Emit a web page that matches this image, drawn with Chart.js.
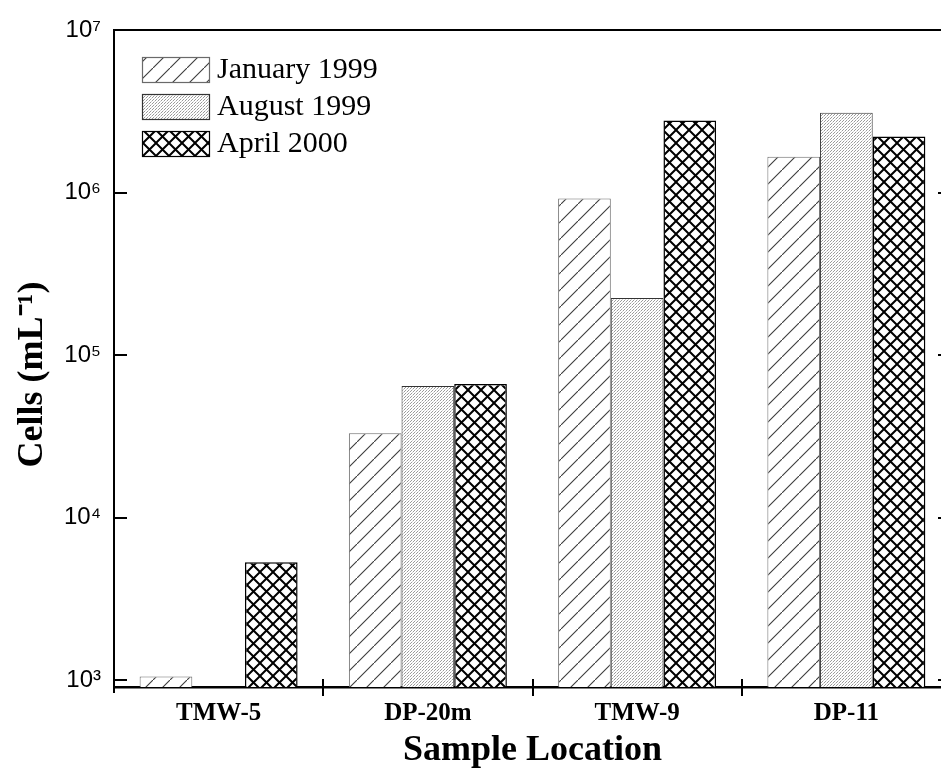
<!DOCTYPE html>
<html>
<head>
<meta charset="utf-8">
<script src="https://cdn.jsdelivr.net/npm/chart.js@4.4.1/dist/chart.umd.min.js"></script>
<style>
  html, body { margin: 0; padding: 0; background: #fff; overflow: hidden; }
  #wrap { width: 941px; height: 784px; overflow: hidden; }
  canvas { display: block; }
</style>
</head>
<body>
<div id="wrap"><canvas id="c" width="970" height="784"></canvas></div>
<script>
// ---- data ----
const categories = ['TMW-5', 'DP-20m', 'TMW-9', 'DP-11'];
const seriesLabels = ['January 1999', 'August 1999', 'April 2000'];
const jan1999 = [1050, 33000, 920000, 1660000];
const aug1999 = [null, 64500, 224000, 3100000];
const apr2000 = [5300, 66400, 2770000, 2210000];
const yTickValues = [1e3, 1e4, 1e5, 1e6, 1e7];
const yAxisTitle = 'Cells (mL\u207B\u00B9)';
const xAxisTitle = 'Sample Location';

// ---- patterns ----
function makePattern(size, draw) {
  const c = document.createElement('canvas');
  c.width = size; c.height = size;
  const g = c.getContext('2d');
  g.fillStyle = '#fff';
  g.fillRect(0, 0, size, size);
  draw(g, size);
  return g.createPattern(c, 'repeat');
}
const ctxMain = document.getElementById('c').getContext('2d');
const hatchPattern = makePattern(17, (g, s) => {
  g.strokeStyle = '#3a3a3a';
  g.lineWidth = 1.1;
  g.beginPath();
  g.moveTo(-2, s + 2); g.lineTo(s + 2, -2);
  g.stroke();
});
const stipplePattern = makePattern(3, (g, s) => {
  g.fillStyle = '#9a9a9a';
  g.fillRect(0, 0, 1, 1);
  g.fillRect(2, 1, 1, 1);
  g.fillStyle = '#cfcfcf';
  g.fillRect(1, 2, 1, 1);
});
const crossPattern = makePattern(13, (g, s) => {
  g.strokeStyle = '#000';
  g.lineWidth = 2;
  g.beginPath();
  g.moveTo(-2, -2); g.lineTo(s + 2, s + 2);
  g.moveTo(-2, s + 2); g.lineTo(s + 2, -2);
  g.stroke();
});

const supMap = { '0': '\u2070', '1': '\u00B9', '2': '\u00B2', '3': '\u00B3', '4': '\u2074', '5': '\u2075', '6': '\u2076', '7': '\u2077', '8': '\u2078', '9': '\u2079' };
function powLabel(v) {
  const e = Math.round(Math.log10(v));
  return '10' + String(e).split('').map(d => supMap[d]).join('');
}

const SERIF = '"Liberation Serif", "Times New Roman", serif';
const SANS = '"Liberation Sans", Arial, sans-serif';

// ---- plugins: frame, inner ticks, y title, legend inside plot ----
const framePlugin = {
  id: 'frame',
  afterDraw(chart) {
    const { ctx, chartArea: a, scales } = chart;
    const y = scales.y, x = scales.x;
    ctx.save();
    ctx.strokeStyle = '#000';
    ctx.lineWidth = 2;
    ctx.beginPath();
    ctx.moveTo(a.left, a.top); ctx.lineTo(a.right, a.top);
    ctx.moveTo(a.right, a.top); ctx.lineTo(a.right, a.bottom);
    ctx.moveTo(a.left, a.bottom); ctx.lineTo(a.left, a.bottom + 6);
    ctx.stroke();
    ctx.beginPath();
    yTickValues.forEach(v => {
      const py = Math.round(y.getPixelForValue(v));
      ctx.moveTo(a.left, py); ctx.lineTo(a.left + 13, py);
      ctx.moveTo(a.right - 13, py); ctx.lineTo(a.right, py);
    });
    ctx.stroke();
    ctx.beginPath();
    for (let i = 0; i < categories.length - 1; i++) {
      const px = Math.round((x.getPixelForValue(i) + x.getPixelForValue(i + 1)) / 2);
      ctx.moveTo(px, a.bottom - 8); ctx.lineTo(px, a.bottom + 9);
    }
    ctx.stroke();

    // y-axis title (text comes from the scale options)
    const t = chart.options.scales.y.title;
    ctx.save();
    ctx.translate(33, (a.top + a.bottom) / 2 + 16);
    ctx.rotate(-Math.PI / 2);
    ctx.fillStyle = '#000';
    ctx.font = 'bold 36px ' + SERIF;
    ctx.textAlign = 'center';
    ctx.textBaseline = 'middle';
    ctx.fillText(t.text, 0, 0);
    ctx.restore();
    ctx.restore();
  }
};

const legendPlugin = {
  id: 'insideLegend',
  afterDraw(chart) {
    const { ctx, chartArea: a } = chart;
    const bx = a.left + 28, by = a.top + 27, bw = 67, bh = 25, gap = 37;
    chart.data.datasets.forEach((ds, i) => {
      const yy = by + i * gap;
      ctx.save();
      ctx.fillStyle = ds.backgroundColor;
      ctx.fillRect(bx, yy, bw, bh);
      ctx.strokeStyle = ds.borderColor;
      ctx.lineWidth = 1.2;
      ctx.strokeRect(bx + 0.5, yy + 0.5, bw, bh);
      ctx.fillStyle = '#000';
      ctx.font = '30px ' + SERIF;
      ctx.textBaseline = 'middle';
      ctx.textAlign = 'left';
      ctx.fillText(ds.label, bx + bw + 8, yy + bh / 2 + 1);
      ctx.restore();
    });
  }
};

new Chart(ctxMain, {
  type: 'bar',
  data: {
    labels: categories,
    datasets: [
      { label: seriesLabels[0], data: jan1999, backgroundColor: hatchPattern, borderColor: '#6a6a6a', borderWidth: 1 },
      { label: seriesLabels[1], data: aug1999, backgroundColor: stipplePattern, borderColor: '#333', borderWidth: 1 },
      { label: seriesLabels[2], data: apr2000, backgroundColor: crossPattern, borderColor: '#000', borderWidth: 1.5 }
    ]
  },
  options: {
    responsive: false,
    animation: false,
    devicePixelRatio: 1,
    layout: { padding: { left: 0, right: 19, top: 30, bottom: 0 } },
    datasets: { bar: { barPercentage: 1.0, categoryPercentage: 0.755, borderSkipped: 'start' } },
    plugins: { legend: { display: false }, tooltip: { enabled: false } },
    scales: {
      x: {
        type: 'category',
        offset: true,
        grid: { display: false, drawTicks: false },
        border: { display: true, color: '#000', width: 2.5 },
        ticks: { color: '#000', padding: 12, font: { family: SERIF, weight: 'bold', size: 25 } },
        title: { display: true, text: xAxisTitle, color: '#000', font: { family: SERIF, weight: 'bold', size: 36 }, padding: { top: 0, bottom: 12 } },
        afterFit(s) { s.height = 97; }
      },
      y: {
        type: 'logarithmic',
        min: 906,
        max: 1e7,
        grid: { display: false, drawTicks: false },
        border: { display: true, color: '#000', width: 2 },
        afterBuildTicks(s) { s.ticks = yTickValues.map(v => ({ value: v, major: true })); },
        ticks: { color: '#000', padding: 13, font: { family: SANS, size: 24 }, callback: (v) => powLabel(v) },
        title: { display: false, text: yAxisTitle, color: '#000', font: { family: SERIF, weight: 'bold', size: 36 } },
        afterFit(s) { s.width = 114; }
      }
    }
  },
  plugins: [framePlugin, legendPlugin]
});
</script>
</body>
</html>
